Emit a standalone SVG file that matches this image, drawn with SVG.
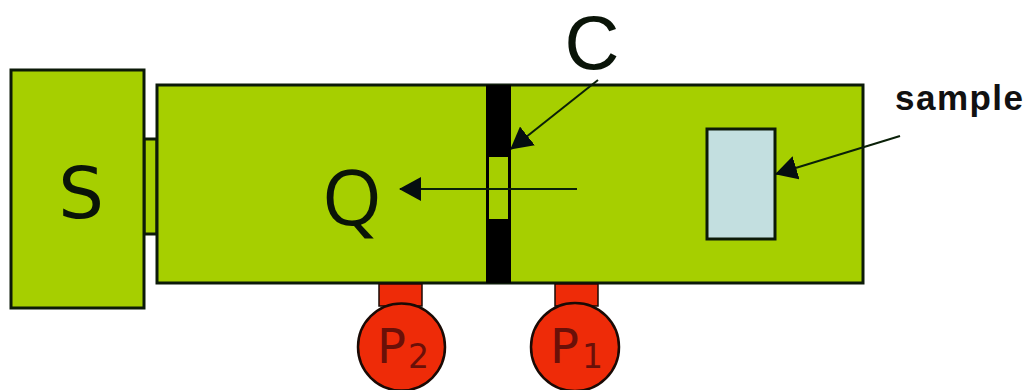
<svg xmlns="http://www.w3.org/2000/svg" width="1033" height="390" viewBox="0 0 1033 390">
<style>
.g{fill:#a6cf00;stroke:#0c1a08;stroke-width:3}
.r{fill:#ee2b08;stroke:#1a0a05;stroke-width:2.5}
.n{fill:#ee2b08;stroke:#1a0a05;stroke-width:1.5}
.t{font-family:"Open Sans",sans-serif;fill:#0a1408}
.p{font-family:"DejaVu Sans",sans-serif;fill:#6a1008}
.l{stroke:#0a2008;stroke-width:2;fill:none}
</style>
<defs>
<marker id="a" markerUnits="userSpaceOnUse" markerWidth="24" markerHeight="24" refX="21" refY="12" orient="auto"><path d="M0 0L22 12L0 24Z" fill="#050d10"/></marker>
</defs>
<rect width="1033" height="390" fill="#fff"/>
<g id="neck"><rect class="g" x="144" y="139" width="13" height="95"/></g>
<g id="source"><rect class="g" x="11" y="70" width="133" height="238"/><text x="81" y="218" font-family="'DejaVu Sans',sans-serif" fill="#0a1408" font-size="72" text-anchor="middle">S</text></g>
<g id="chamber"><rect class="g" x="157" y="85" width="706" height="198"/><text class="t" x="352" y="225" font-size="77" text-anchor="middle">Q</text></g>
<g id="wall"><rect x="486" y="85" width="25" height="198" fill="#000"/><rect x="489" y="157" width="19" height="62" fill="#a6cf00"/></g>
<g id="sample-box"><rect x="707" y="129" width="68" height="110" fill="#c3dfe0" stroke="#0c1a08" stroke-width="3"/></g>
<g id="pump2"><rect class="n" x="379" y="284" width="43" height="22"/><circle class="r" cx="401.5" cy="347" r="43.5"/><text class="p" x="377" y="363" font-size="48">P</text><text class="p" x="408" y="368" font-size="33">2</text></g>
<g id="pump1"><rect class="n" x="555" y="284" width="43" height="22"/><circle class="r" cx="575" cy="347" r="44"/><text class="p" x="550" y="363" font-size="48">P</text><text class="p" x="582" y="368" font-size="33">1</text></g>
<g id="connectors">
<line class="l" x1="598" y1="80" x2="511" y2="149" marker-end="url(#a)"/>
<line class="l" x1="577" y1="189" x2="400" y2="189" marker-end="url(#a)"/>
<line class="l" x1="900" y1="136" x2="776" y2="174" marker-end="url(#a)"/>
</g>
<text x="592" y="69" font-family="'Liberation Sans',Arial,sans-serif" fill="#0a1408" font-size="76" text-anchor="middle">C</text>
<text x="895" y="110" font-family="'Liberation Sans',Arial,sans-serif" font-weight="700" font-size="35" fill="#111" textLength="128" lengthAdjust="spacing">sample</text>
</svg>
